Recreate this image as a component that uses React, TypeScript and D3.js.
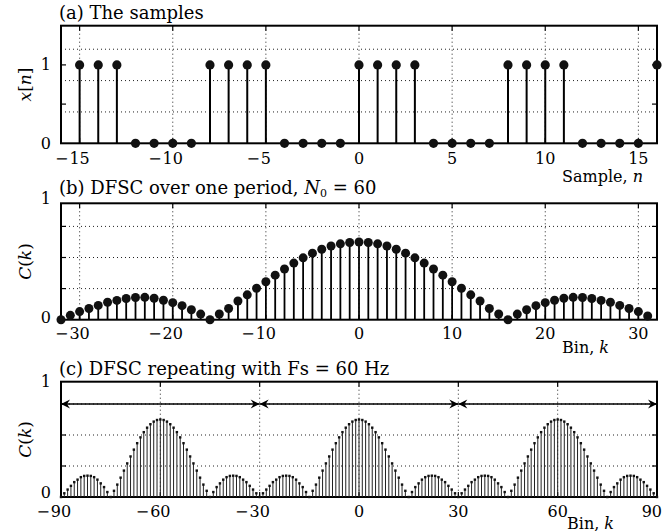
import React from 'react';
import * as d3 from 'd3';

// ---------- data ----------
const sampleN = [-15, -14, -13, -12, -11, -10, -9, -8, -7, -6, -5, -4, -3, -2, -1, 0, 1, 2, 3, 4, 5, 6, 7, 8, 9, 10, 11, 12, 13, 14, 15, 16];
const sampleX = [1, 1, 1, 0, 0, 0, 0, 1, 1, 1, 1, 0, 0, 0, 0, 1, 1, 1, 1, 0, 0, 0, 0, 1, 1, 1, 1, 0, 0, 0, 0, 1];

// panel (b): bins k = -32 .. 31
const binStartB = -32;
const dfscB = [
  0, 0.035, 0.065, 0.09, 0.115, 0.14, 0.155, 0.17, 0.178, 0.18, 0.172, 0.156, 0.137, 0.113, 0.08, 0.045, 0,
  0.046, 0.09, 0.15, 0.2, 0.253, 0.305, 0.358, 0.408, 0.455, 0.497, 0.535, 0.566, 0.592, 0.61, 0.621,
  0.625, 0.621, 0.61, 0.592, 0.566, 0.535, 0.497, 0.455, 0.408, 0.358, 0.305, 0.253, 0.2, 0.15, 0.09, 0.046,
  0, 0.045, 0.08, 0.113, 0.137, 0.156, 0.172, 0.18, 0.178, 0.17, 0.155, 0.14, 0.115, 0.09, 0.065, 0.03,
];

// panel (c): one period of 60 bins, k = -30 .. 29, repeated over k = -90 .. 90
const periodStartC = -30;
const dfscPeriodC = [
  0, 0.03, 0.06, 0.09, 0.12, 0.14, 0.16, 0.17, 0.172, 0.17, 0.16, 0.14, 0.11, 0.08, 0.04,
  0, 0.05, 0.1, 0.156, 0.213, 0.271, 0.327, 0.382, 0.434, 0.481, 0.523, 0.559, 0.587, 0.608, 0.621,
  0.625, 0.621, 0.608, 0.587, 0.559, 0.523, 0.481, 0.434, 0.382, 0.327, 0.271, 0.213, 0.156, 0.1, 0.05,
  0, 0.04, 0.08, 0.11, 0.14, 0.16, 0.17, 0.172, 0.17, 0.16, 0.14, 0.12, 0.09, 0.06, 0.03,
];
const binsC = d3.range(-90, 91);
const arrowSpans = [[-90, -30], [-30, 30], [30, 90]];

const xTicksA = [-15, -10, -5, 0, 5, 10, 15];
const xTicksB = [-30, -20, -10, 0, 10, 20, 30];
const xTicksC = [-90, -60, -30, 0, 30, 60, 90];

// ---------- layout ----------
const L = 61;
const R = 657;
const FONT = "'DejaVu Serif', serif";
const TICK_FS = 16;
const TITLE_FS = 18;

type Lin = d3.ScaleLinear<number, number>;

function Frame({ x, y, top, bottom, xGrid, yGrid, xTicks, yTicks }: {
  x: Lin; y: Lin; top: number; bottom: number; xGrid: number[]; yGrid: number[]; xTicks: number[]; yTicks: number[];
}) {
  const tl = 5;
  return (
    <g>
      {xGrid.map((v) => (
        <line key={'gx' + v} x1={x(v)} x2={x(v)} y1={top} y2={bottom} stroke="#222" strokeWidth={1} strokeDasharray="1,3" />
      ))}
      {yGrid.map((v) => (
        <line key={'gy' + v} x1={L} x2={R} y1={y(v)} y2={y(v)} stroke="#222" strokeWidth={1} strokeDasharray="1,3" />
      ))}
      {xTicks.map((v) => (
        <g key={'tx' + v}>
          <line x1={x(v)} x2={x(v)} y1={bottom} y2={bottom - tl} stroke="#000" strokeWidth={1.2} />
          <line x1={x(v)} x2={x(v)} y1={top} y2={top + tl} stroke="#000" strokeWidth={1.2} />
        </g>
      ))}
      {yTicks.map((v) => (
        <g key={'ty' + v}>
          <line x1={L} x2={L + tl} y1={y(v)} y2={y(v)} stroke="#000" strokeWidth={1.2} />
          <line x1={R} x2={R - tl} y1={y(v)} y2={y(v)} stroke="#000" strokeWidth={1.2} />
        </g>
      ))}
      <rect x={L} y={top} width={R - L} height={bottom - top} fill="none" stroke="#000" strokeWidth={2} />
    </g>
  );
}

// x tick label: digits centred on the tick, minus sign hanging to the left (as in the reference)
function XLabel({ x, v, y }: { x: Lin; v: number; y: number }) {
  const digits = String(Math.abs(v));
  const half = digits.length * 0.636 * TICK_FS / 2;
  let cx = x(v);
  let anchor: 'middle' | 'end' = 'middle';
  let px = cx;
  if (cx + half > 662) { anchor = 'end'; px = 662; cx = 662 - half; }
  return (
    <g>
      <text x={px} y={y} fontSize={TICK_FS} textAnchor={anchor}>{digits}</text>
      {v < 0 && <text x={cx - half - 1} y={y} fontSize={TICK_FS} textAnchor="end">{'\u2212'}</text>}
    </g>
  );
}

function arrowHead(tx: number, ty: number, dir: number) {
  const len = 9, half = 4.5, notch = 6;
  return `M${tx},${ty} L${tx - dir * len},${ty - half} L${tx - dir * notch},${ty} L${tx - dir * len},${ty + half} Z`;
}

export default function App() {
  // panel a
  const topA = 25.7, botA = 143.3;
  const xA = d3.scaleLinear().domain([-16, 16]).range([L, R]);
  const yA = d3.scaleLinear().domain([0, 1.5]).range([botA, topA]);
  // panel b
  const topB = 203.3, botB = 319.7;
  const xB = d3.scaleLinear().domain([-32, 32]).range([L, R]);
  const yB = d3.scaleLinear().domain([0, 1]).range([botB, botB - 124.4]);
  // panel c
  const topC = 381.7, botC = 497;
  const xC = d3.scaleLinear().domain([-90, 90]).range([L, R]);
  const yC = d3.scaleLinear().domain([0, 1]).range([botC, botC - 124]);

  const valC = (k: number) => dfscPeriodC[(((k - periodStartC) % 60) + 60) % 60];

  return (
    <svg width={664} height={531} viewBox="0 0 664 531" style={{ position: 'absolute', left: 0, top: 0, background: '#fff' }} fontFamily={FONT}>
      <rect x={0} y={0} width={664} height={531} fill="#fff" />

      {/* ---------------- panel (a) ---------------- */}
      <text x={59} y={19} fontSize={TITLE_FS}>(a) The samples</text>
      <Frame x={xA} y={yA} top={topA} bottom={botA} xGrid={xTicksA} yGrid={[0.4, 0.8, 1.2]} xTicks={xTicksA} yTicks={[0.5, 1]} />
      {sampleN.map((n, i) => (
        <line key={'sa' + n} x1={xA(n)} x2={xA(n)} y1={yA(0)} y2={yA(sampleX[i])} stroke="#000" strokeWidth={2} />
      ))}
      {sampleN.map((n, i) => (
        <circle key={'da' + n} cx={xA(n)} cy={yA(sampleX[i])} r={4.6} fill="#111" />
      ))}
      {xTicksA.map((v) => <XLabel key={'la' + v} x={xA} v={v} y={164} />)}
      <text x={51} y={yA(1) + 5.5} fontSize={TICK_FS} textAnchor="end">1</text>
      <text x={51} y={yA(0) + 5.5} fontSize={TICK_FS} textAnchor="end">0</text>
      <text transform={`translate(31,${(topA + botA) / 2}) rotate(-90)`} fontSize={17} textAnchor="middle">
        <tspan fontStyle="italic">x</tspan>[<tspan fontStyle="italic">n</tspan>]
      </text>
      <text x={643} y={182} fontSize={TICK_FS} textAnchor="end">Sample, <tspan fontStyle="italic">n</tspan></text>

      {/* ---------------- panel (b) ---------------- */}
      <text x={59} y={194} fontSize={TITLE_FS}>
        (b) DFSC over one period, <tspan fontStyle="italic">N</tspan><tspan fontSize={11} dy={3}>0</tspan><tspan dy={-3}> = 60</tspan>
      </text>
      <Frame x={xB} y={yB} top={topB} bottom={botB} xGrid={xTicksB} yGrid={[0.25, 0.5, 0.75]} xTicks={xTicksB} yTicks={[0.25, 0.5, 0.75]} />
      {dfscB.map((v, i) => (
        <line key={'sb' + i} x1={xB(binStartB + i)} x2={xB(binStartB + i)} y1={yB(0)} y2={yB(v)} stroke="#000" strokeWidth={1.8} />
      ))}
      {dfscB.map((v, i) => (
        <circle key={'db' + i} cx={xB(binStartB + i)} cy={yB(v)} r={4.5} fill="#111" />
      ))}
      {xTicksB.map((v) => <XLabel key={'lb' + v} x={xB} v={v} y={338.5} />)}
      <text x={51} y={topB + 0.5} fontSize={TICK_FS} textAnchor="end">1</text>
      <text x={51} y={botB + 3} fontSize={TICK_FS} textAnchor="end">0</text>
      <text transform={`translate(31,${(topB + botB) / 2}) rotate(-90)`} fontSize={17} textAnchor="middle">
        <tspan fontStyle="italic">C</tspan>(<tspan fontStyle="italic">k</tspan>)
      </text>
      <text x={562} y={353} fontSize={TICK_FS}>Bin, <tspan fontStyle="italic">k</tspan></text>

      {/* ---------------- panel (c) ---------------- */}
      <text x={59} y={375} fontSize={TITLE_FS}>(c) DFSC repeating with Fs = 60 Hz</text>
      <Frame x={xC} y={yC} top={topC} bottom={botC} xGrid={[-60, -30, 0, 30, 60]} yGrid={[0.25, 0.5, 0.75]} xTicks={xTicksC} yTicks={[0.25, 0.5, 0.75]} />
      {binsC.map((k) => (
        <line key={'sc' + k} x1={xC(k)} x2={xC(k)} y1={yC(0)} y2={yC(valC(k))} stroke="#222" strokeWidth={1} />
      ))}
      {binsC.map((k) => (
        <rect key={'dc' + k} x={xC(k) - 1.2} y={yC(valC(k)) - 1.2} width={2.4} height={2.4} fill="#111" />
      ))}
      {arrowSpans.map(([a, b]) => (
        <g key={'ar' + a}>
          <line x1={xC(a)} x2={xC(b)} y1={yC(0.75)} y2={yC(0.75)} stroke="#000" strokeWidth={1.3} />
          <path d={arrowHead(xC(a), yC(0.75), -1)} fill="#000" />
          <path d={arrowHead(xC(b), yC(0.75), 1)} fill="#000" />
        </g>
      ))}
      {xTicksC.map((v) => <XLabel key={'lc' + v} x={xC} v={v} y={517} />)}
      <text x={51} y={topC + 5.5} fontSize={TICK_FS} textAnchor="end">1</text>
      <text x={51} y={botC + 1} fontSize={TICK_FS} textAnchor="end">0</text>
      <text transform={`translate(31,${(topC + botC) / 2}) rotate(-90)`} fontSize={17} textAnchor="middle">
        <tspan fontStyle="italic">C</tspan>(<tspan fontStyle="italic">k</tspan>)
      </text>
      <text x={567} y={528.5} fontSize={TICK_FS}>Bin, <tspan fontStyle="italic">k</tspan></text>
    </svg>
  );
}
